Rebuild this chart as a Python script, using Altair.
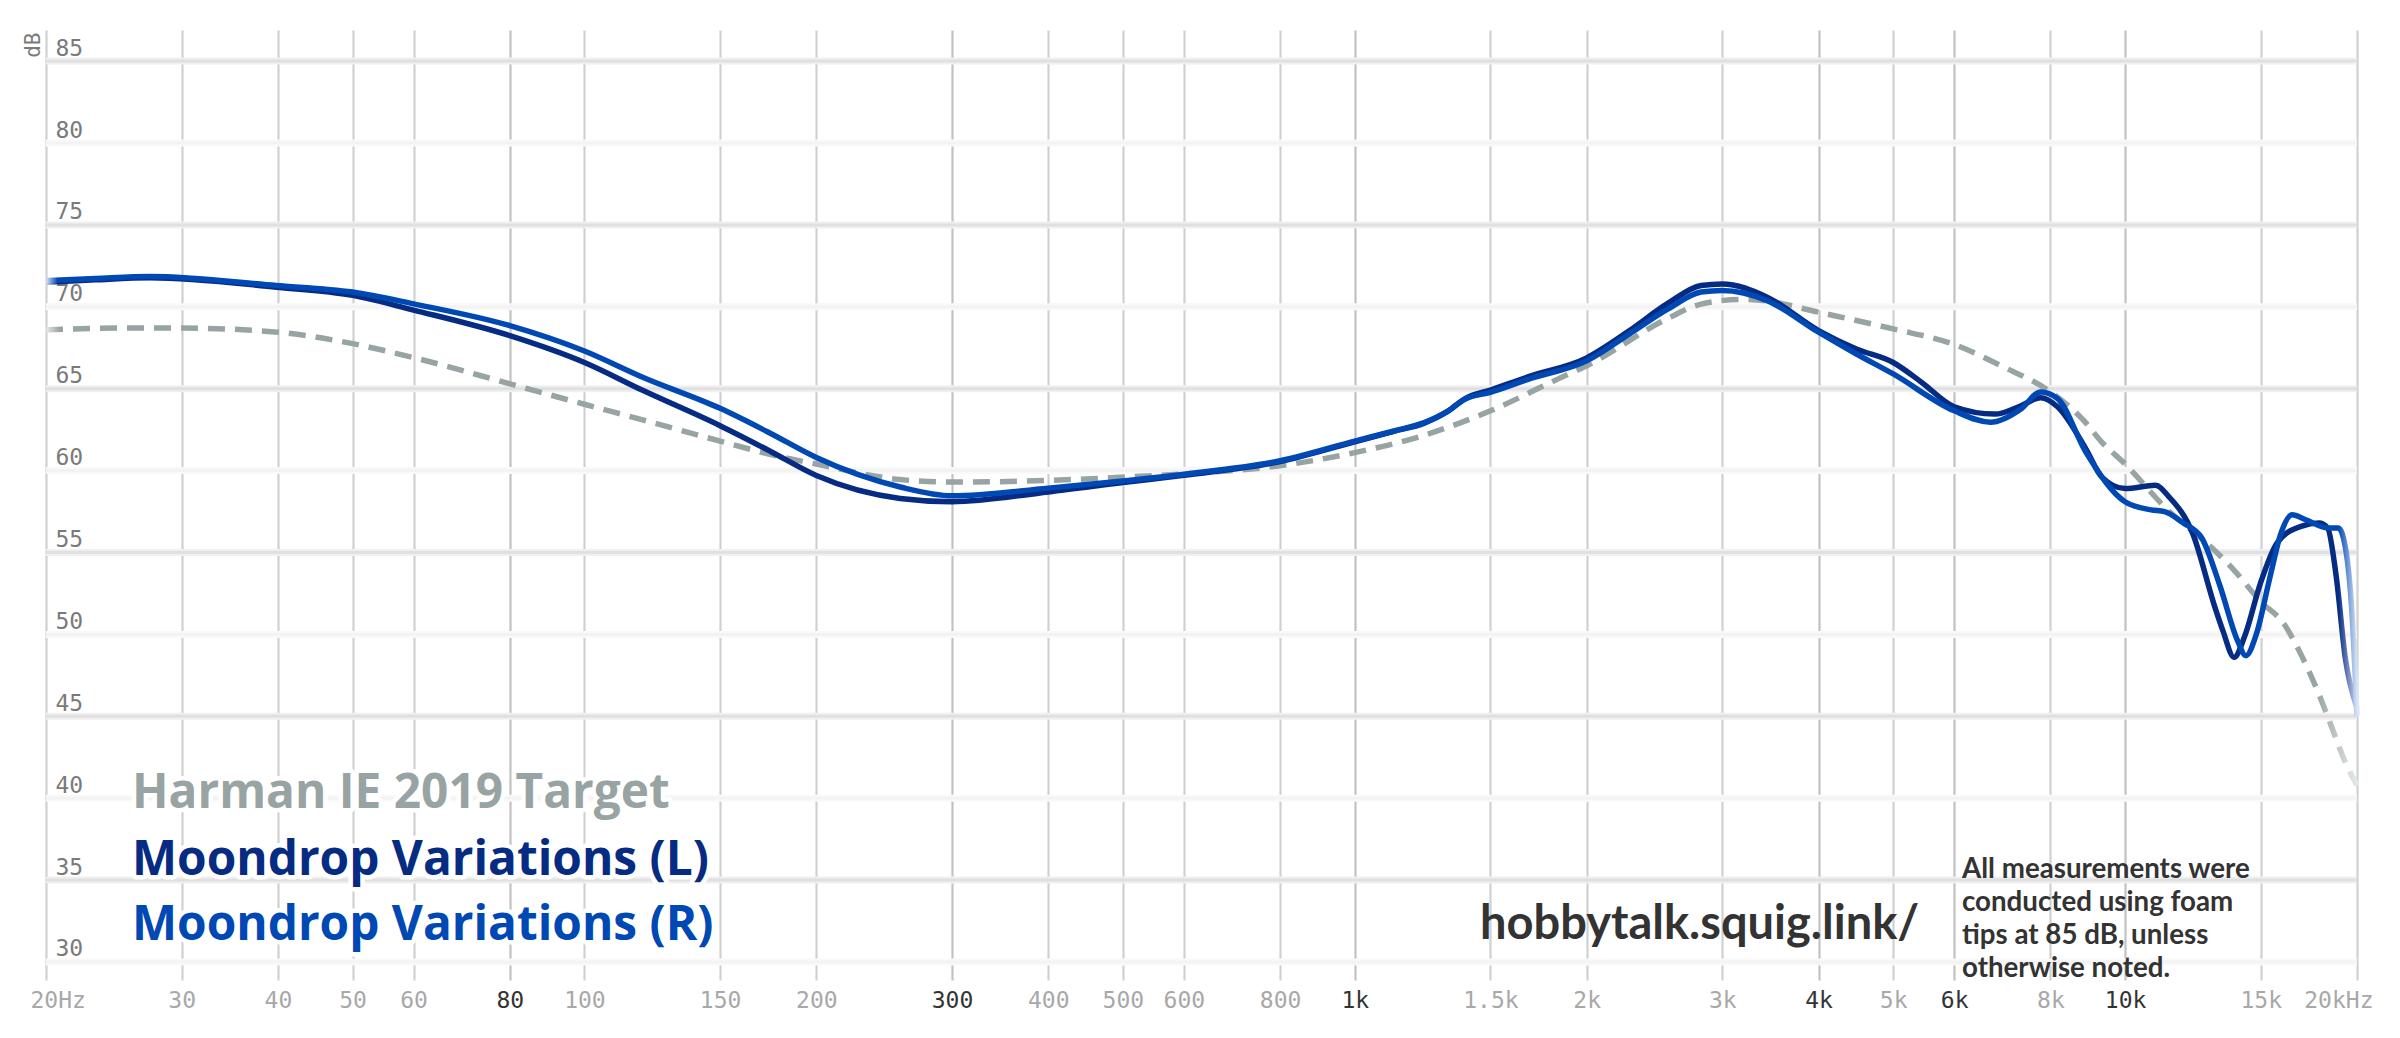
import altair as alt
import pandas as pd

# ---------------- data ----------------
tick_freqs = [20, 30, 40, 50, 60, 80, 100, 150, 200, 300, 400, 500, 600, 800,
              1000, 1500, 2000, 3000, 4000, 5000, 6000, 8000, 10000, 15000, 20000]
dark_tick_freqs = [80, 300, 1000, 4000, 6000, 10000]
db_ticks = [30, 35, 40, 45, 50, 55, 60, 65, 70, 75, 80, 85]
strong_grid_db = [35, 45, 55, 65, 75, 85]
faint_grid_db = [30, 40, 50, 60, 70, 80]

target_freq = [20, 25, 30, 40, 50, 60, 80, 100, 119, 150, 174, 200, 257, 300, 400, 500,
               600, 800, 1000, 1219, 1500, 1837, 2000, 2551, 2808, 3180, 3430, 4000, 5000,
               6000, 6900, 8000, 8900, 9300, 10000, 11300, 13090, 13800, 15000, 16100,
               16740, 17900, 18320, 19400, 20000]
target_db = [68.6, 68.7, 68.7, 68.45, 67.75, 66.9, 65.3, 64.05, 63.1, 61.8, 61.0, 60.4, 59.45,
             59.3, 59.4, 59.6, 59.8, 60.3, 61.1, 62.1, 63.65, 65.6, 66.4, 69.3, 70.15, 70.45,
             70.35, 69.67, 68.65, 67.7, 66.4, 64.8, 62.9, 61.8, 60.4, 57.7, 55.1, 54.0, 52.0,
             50.6, 49.2, 46.2, 45.0, 42.0, 40.8]

left_freq = [20, 23.2, 27.3, 39.8, 50, 60, 80, 100, 119, 150, 174, 200, 257, 300, 400, 500,
             600, 800, 1000, 1124, 1231, 1318, 1391, 1500, 1685, 2000, 2266, 2551, 2815,
             3000, 3430, 4000, 4479, 5000, 5440, 6000, 6775, 7325, 7770, 8170, 8900, 9330,
             10000, 10950, 11400, 12230, 13090, 13400, 13850, 14300, 14980, 15760, 16920,
             17860, 18320, 18800, 19320, 20000]
left_db = [71.5, 71.65, 71.77, 71.2, 70.7, 69.8, 68.24, 66.6, 64.9, 62.74, 61.2, 59.7, 58.3,
           58.1, 58.7, 59.27, 59.72, 60.55, 61.76, 62.4, 62.9, 63.6, 64.4, 64.92, 65.75,
           66.88, 68.5, 70.22, 71.3, 71.4, 70.59, 68.55, 67.43, 66.6, 65.4, 63.9, 63.45,
           63.96, 64.45, 63.9, 61.3, 59.6, 58.9, 59.1, 58.4, 56.2, 51.6, 50.2, 48.6, 49.9,
           53.1, 55.6, 56.6, 56.8, 56.5, 53.5, 48.5, 45.5]

right_freq = [20, 23.2, 27.3, 39.8, 50, 60, 80, 100, 119, 150, 174, 200, 257, 300, 400, 500,
              600, 800, 1000, 1124, 1231, 1318, 1391, 1500, 1685, 2000, 2266, 2551, 2815,
              3000, 3430, 4000, 4479, 5000, 6000, 6686, 7325, 7770, 8170, 8900, 10000,
              10806, 11250, 11900, 12570, 13270, 14000, 14350, 14800, 15420, 15940, 16470,
              17160, 18320, 18920, 19320, 19720, 20000]
right_db = [71.6, 71.73, 71.85, 71.3, 70.9, 70.18, 68.85, 67.3, 65.7, 63.8, 62.3, 60.8, 59.0,
            58.46, 58.93, 59.37, 59.78, 60.6, 61.8, 62.42, 62.93, 63.6, 64.37, 64.78, 65.6,
            66.7, 68.3, 69.87, 70.9, 71.0, 70.38, 68.45, 67.12, 65.9, 63.65, 62.95, 63.76,
            64.8, 64.4, 61.1, 58.1, 57.6, 57.5, 56.8, 55.9, 53.0, 49.6, 48.7, 50.0, 53.5,
            56.2, 57.3, 57.0, 56.5, 56.5, 55.3, 51.0, 45.0]

legend_target = "Harman IE 2019 Target"
legend_left = "Moondrop Variations (L)"
legend_right = "Moondrop Variations (R)"
site_label = "hobbytalk.squig.link/"
note_label = "All measurements were\nconducted using foam\ntips at 85 dB, unless\notherwise noted."

# ---------------- styles ----------------
TARGET = "#98a3a3"
LEFT = "#062b82"
RIGHT = "#0048b4"
MONO = "DejaVu Sans Mono"

x_scale = alt.Scale(type="log", domain=[20, 20000], nice=False)
y_scale = alt.Scale(domain=[28.9, 86.9], nice=False, zero=False)

dark_test = "indexof([80, 300, 1000, 4000, 6000, 10000], datum.value) >= 0"

x_axis = alt.Axis(
    values=tick_freqs,
    labelExpr="datum.value == 20 ? '20Hz' : datum.value == 20000 ? '20kHz' : "
              "datum.value >= 1000 ? (datum.value / 1000) + 'k' : '' + datum.value",
    grid=True,
    gridColor={"condition": {"test": dark_test, "value": "#c2c2c2"}, "value": "#d0d0d0"},
    gridWidth=2.2,
    domain=False, ticks=False, tickSize=0,
    labelFont=MONO, labelFontSize=23,
    labelColor={"condition": {"test": dark_test, "value": "#333333"}, "value": "#a8a8a8"},
    labelPadding=27, labelBaseline="alphabetic",
    labelFlush=True, labelFlushOffset=16, labelOverlap=False,
    title=None,
)

y_axis = alt.Axis(
    values=db_ticks, grid=False, domain=False, ticks=False, tickSize=0,
    labelFont=MONO, labelFontSize=23, labelColor="#7a7a7a",
    labelAlign="left", labelPadding=-9, labelBaseline="alphabetic", labelOffset=-6,
    labelFlush=False, labelOverlap=False,
    title="dB", titleFont=MONO, titleFontSize=21, titleColor="#7a7a7a",
    titleFontWeight="normal", titleAngle=270, titleX=-7, titleY=2,
    titleAlign="right", titleBaseline="alphabetic",
)

X = alt.X("freq:Q", scale=x_scale, axis=x_axis)
Y = alt.Y("db:Q", scale=y_scale, axis=y_axis)


def fade(color, light, start, end):
    return alt.Gradient(
        gradient="linear", x1=0, x2=1, y1=0, y2=0,
        stops=[alt.GradientStop(color=light, offset=0),
               alt.GradientStop(color=color, offset=start),
               alt.GradientStop(color=color, offset=end),
               alt.GradientStop(color=light, offset=1)],
    )


strong_df = pd.DataFrame({"db": strong_grid_db})
faint_df = pd.DataFrame({"db": faint_grid_db})

grid_strong_wide = alt.Chart(strong_df).mark_rule(color="#f0f0f0", strokeWidth=7).encode(y=Y)
grid_strong = alt.Chart(strong_df).mark_rule(color="#e0e0e0", strokeWidth=3).encode(y=Y)
grid_faint_wide = alt.Chart(faint_df).mark_rule(color="#f9f9f9", strokeWidth=7).encode(y=Y)
grid_faint = alt.Chart(faint_df).mark_rule(color="#f3f3f3", strokeWidth=3).encode(y=Y)

target_df = pd.DataFrame({"freq": target_freq, "db": target_db})
left_df = pd.DataFrame({"freq": left_freq, "db": left_db})
right_df = pd.DataFrame({"freq": right_freq, "db": right_db})

target_line = alt.Chart(target_df).mark_line(
    strokeWidth=5.5, strokeDash=[17, 10], interpolate="monotone",
    stroke=fade(TARGET, "#e4e8e8", 0.006, 0.982),
).encode(x=X, y=Y)

left_line = alt.Chart(left_df).mark_line(
    strokeWidth=5.5, interpolate="monotone",
    stroke=fade(LEFT, "#d5dbef", 0.005, 0.992),
).encode(x=X, y=Y)

right_line = alt.Chart(right_df).mark_line(
    strokeWidth=5.5, interpolate="monotone",
    stroke=fade(RIGHT, "#d8e4f7", 0.005, 0.992),
).encode(x=X, y=Y)


def label(text, x, y, color, font, size, halo=True, line_height=None):
    df = pd.DataFrame({"label": [text]})
    kw = dict(align="left", baseline="alphabetic", font=font, fontSize=size,
              fontWeight="bold")
    if line_height is not None:
        kw["lineBreak"] = "\n"
        kw["lineHeight"] = line_height
    layers = []
    if halo:
        layers.append(alt.Chart(df).mark_text(stroke="white", strokeWidth=9,
                                              strokeJoin="round", color="white", **kw)
                      .encode(x=alt.value(x), y=alt.value(y), text="label:N"))
    layers.append(alt.Chart(df).mark_text(color=color, **kw)
                  .encode(x=alt.value(x), y=alt.value(y), text="label:N"))
    return layers


texts = []
texts += label(legend_target, 86, 778, TARGET, "Open Sans", 47.8)
texts += label(legend_left, 86, 845, LEFT, "Open Sans", 47.8)
texts += label(legend_right, 86, 910, RIGHT, "Open Sans", 47.8)
texts += label(site_label, 1434, 909, "#333333", "Lato", 47, halo=False)
texts += label(note_label, 1916, 848, "#333333", "Lato", 27.7, halo=False, line_height=33)

chart = alt.layer(
    grid_faint_wide, grid_faint, grid_strong_wide, grid_strong,
    target_line, left_line, right_line, *texts,
).properties(
    width=2311, height=950,
    padding={"left": 38, "top": 22, "right": 31, "bottom": 44},
    autosize=alt.AutoSizeParams(type="none"),
    background="white",
).configure_view(stroke=None)

chart.save("out.html", embed_options={"renderer": "svg", "actions": False})
